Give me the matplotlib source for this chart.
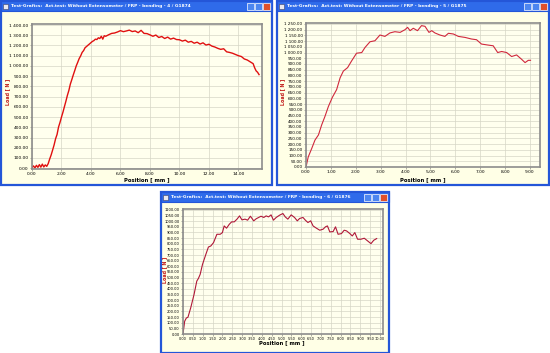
import numpy as np
import matplotlib
matplotlib.use("Agg")
from matplotlib import pyplot as plt
from matplotlib.patches import Rectangle
from matplotlib.ticker import FuncFormatter, MultipleLocator

title1 = "Test-Grafics:  Act.test: Without Extensometer / FRP - bending - 4 / G1874"
x1 = [0.0, 0.1, 0.2, 0.3, 0.4, 0.5, 0.6, 0.7, 0.8, 0.9, 1.0, 1.1, 1.2, 1.3, 1.4,
      1.5, 1.6, 1.7, 1.8, 1.9, 2.0, 2.1, 2.2, 2.3, 2.4, 2.5, 2.6, 2.7, 2.8, 2.9,
      3.0, 3.1, 3.2, 3.3, 3.4, 3.5, 3.6, 3.7, 3.8, 3.9, 4.0, 4.1, 4.2, 4.3, 4.4,
      4.5, 4.6, 4.7, 4.8, 4.9, 5.0, 5.2, 5.4, 5.6, 5.8, 6.0, 6.2, 6.4, 6.6, 6.8,
      7.0, 7.2, 7.4, 7.6, 7.8, 8.0, 8.2, 8.4, 8.6, 8.8, 9.0, 9.2, 9.4, 9.6, 9.8,
      10.0, 10.2, 10.4, 10.6, 10.8, 11.0, 11.2, 11.4, 11.6, 11.8, 12.0, 12.2,
      12.4, 12.6, 12.8, 13.0, 13.2, 13.4, 13.6, 13.8, 14.0, 14.2, 14.4, 14.6,
      14.8, 15.0, 15.1, 15.2, 15.3, 15.4]
y1 = [5, 22, 3, 28, 8, 35, 10, 40, 12, 32, 18, 45, 90, 130, 178,
      228, 288, 330, 402, 448, 500, 548, 602, 655, 712, 760, 822, 866, 912, 955,
      1000, 1035, 1072, 1098, 1132, 1150, 1178, 1190, 1203, 1215, 1228, 1240, 1248, 1262, 1258,
      1275, 1268, 1290, 1262, 1295, 1290, 1305, 1318, 1322, 1332, 1345, 1335, 1342, 1350, 1336,
      1342, 1325, 1348, 1318, 1316, 1304, 1290, 1302, 1278, 1288, 1268, 1282, 1262, 1272, 1258,
      1256, 1243, 1252, 1232, 1240, 1222, 1232, 1214, 1226, 1204, 1212, 1194,
      1185, 1172, 1162, 1168, 1138, 1132, 1124, 1112, 1100, 1092, 1068, 1058,
      1040, 1022, 982, 952, 938, 915]

title2 = "Test-Grafics:  Act.test: Without Extensometer / FRP - bending - 5 / G1875"
x2 = [0.0, 0.09, 0.23, 0.36, 0.5, 0.63, 0.76, 0.9, 1.06, 1.23, 1.37, 1.5, 1.67,
      1.83, 2.03, 2.24, 2.37, 2.57, 2.77, 2.97, 3.17, 3.37, 3.57, 3.78, 3.98,
      4.08, 4.18, 4.31, 4.48, 4.64, 4.78, 4.94, 5.05, 5.18, 5.38, 5.58, 5.72,
      5.92, 6.12, 6.39, 6.65, 6.85, 7.05, 7.32, 7.52, 7.7, 7.86, 8.06, 8.26,
      8.46, 8.66, 8.8, 8.93, 9.02]
y2 = [0, 88, 162, 235, 280, 368, 441, 529, 609, 676, 779, 838, 868,
      926, 994, 1000, 1044, 1094, 1103, 1153, 1141, 1171, 1182, 1176, 1200,
      1220, 1191, 1212, 1191, 1235, 1229, 1176, 1191, 1171, 1153, 1141, 1168,
      1162, 1141, 1132, 1118, 1112, 1074, 1065, 1059, 1000, 1009, 1000, 965,
      979, 941, 912, 932, 932]

title3 = "Test-Grafics:  Act.test: Without Extensometer / FRP - bending - 6 / G1876"
x3 = [0.0, 0.085, 0.17, 0.25, 0.39, 0.56, 0.7, 0.78, 0.87, 0.99, 1.16, 1.29, 1.41,
      1.55, 1.72, 1.89, 2.0, 2.09, 2.21, 2.35, 2.47, 2.6, 2.74, 2.87, 2.99,
      3.15, 3.28, 3.42, 3.59, 3.71, 3.84, 3.96, 4.1, 4.22, 4.34, 4.47, 4.59,
      4.73, 4.9, 5.07, 5.19, 5.32, 5.49, 5.66, 5.8, 5.92, 6.09, 6.21, 6.34,
      6.48, 6.6, 6.77, 6.94, 7.11, 7.23, 7.33, 7.45, 7.62, 7.74, 7.87, 8.04,
      8.18, 8.3, 8.47, 8.59, 8.72, 8.86, 9.03, 9.2, 9.37, 9.54, 9.68, 9.83]
y3 = [0, 113, 142, 148, 231, 350, 469, 492, 528, 617, 706, 771, 780,
      810, 884, 884, 899, 958, 938, 973, 994, 994, 1018, 1047, 1012,
      1018, 1009, 1044, 1003, 1021, 1033, 1044, 1033, 1047, 1038, 1056, 1009,
      1033, 1053, 1068, 1038, 1018, 1056, 1033, 1003, 1024, 1033, 1009, 988,
      1003, 958, 938, 920, 929, 950, 958, 905, 908, 950, 884, 890,
      920, 914, 890, 869, 899, 840, 840, 849, 825, 801, 831, 846]

W, H = 550, 353
fig = plt.figure(figsize=(W / 100, H / 100), dpi=100)
fig.patch.set_facecolor("white")

# overlay in pixel coords for the window frames
bg = fig.add_axes([0, 0, 1, 1])
bg.set_xlim(0, W)
bg.set_ylim(H, 0)
bg.axis("off")

blue = "#2456D8"
cream = "#FFFFE6"


def window(x0, y0, x1_, y1_, title):
    bg.add_patch(Rectangle((x0, y0), x1_ - x0, y1_ - y0, facecolor=cream,
                           edgecolor=blue, lw=1.6))
    bg.add_patch(Rectangle((x0, y0), x1_ - x0, 10, facecolor="#2F6BEA",
                           edgecolor=blue, lw=0.8))
    bg.add_patch(Rectangle((x0 + 2, y0 + 2.5), 5, 5, facecolor="#E8E8F0",
                           edgecolor="#404060", lw=0.4))
    bg.text(x0 + 10, y0 + 5.3, title, color="white", fontsize=3.2,
            fontweight="bold", va="center", ha="left")
    for i, c in enumerate(["#4D86F0", "#4D86F0", "#E0502A"]):
        bx = x1_ - 25 + i * 8
        bg.add_patch(Rectangle((bx, y0 + 1.5), 7, 7, facecolor=c,
                               edgecolor="white", lw=0.5))


window(0.8, 1, 272, 185, title1)
window(277, 1, 549, 185, title2)
window(161, 192, 389, 352.5, title3)


def fmt(v, pos):
    s = "{:,.2f}".format(v)
    return s.replace(",", " ")


def fmt_plain(v, pos):
    return "{:.2f}".format(v)


def panel(rect, x, y, color, xmax, xstep, ymax, ystep, lw, xs, ys, yfmt=fmt):
    l, r, t, b = rect
    ax = fig.add_axes([l / W, 1 - b / H, (r - l) / W, (b - t) / H])
    ax.set_facecolor("#FFFFEE")
    ax.plot(x, y, color=color, lw=lw)
    ax.set_xlim(0, xmax)
    ax.set_ylim(0, ymax)
    ax.xaxis.set_major_locator(MultipleLocator(xstep))
    ax.yaxis.set_major_locator(MultipleLocator(ystep))
    ax.xaxis.set_major_formatter(FuncFormatter(fmt))
    ax.yaxis.set_major_formatter(FuncFormatter(yfmt))
    ax.grid(True, color="#D6D6C6", lw=0.5)
    ax.set_axisbelow(True)
    ax.tick_params(length=1.5, width=0.4, pad=1.0, color="#707070")
    ax.tick_params(axis="x", labelsize=xs)
    ax.tick_params(axis="y", labelsize=ys)
    for sp in ax.spines.values():
        sp.set_color("#8C8C8C")
        sp.set_linewidth(1.2)
    return ax


a1 = panel((32, 262, 24, 169), x1, y1, "#E01010", 15.6, 2, 1410, 100, 1.0, 3.2, 3.2)
a2 = panel((306, 540, 23, 167), x2, y2, "#D0283C", 9.4, 1, 1258, 50, 0.8, 3.2, 3.0)
a3 = panel((183, 383, 209, 334), x3, y3, "#B01838", 10.15, 0.5, 1108, 50, 0.8, 2.5, 2.6,
           yfmt=fmt_plain)
a1.set_ylim(-8, 1410)

# axis titles
for (lx, ly), (px, py) in [((8, 92), (147, 180)), ((283, 92), (423, 180)),
                           ((164.5, 270), (282, 343))]:
    bg.text(lx, ly, "Load [ N ]", color="#C01818", fontsize=3.4, fontweight="bold",
            rotation=90, ha="center", va="center")
    bg.text(px, py, "Position [ mm ]", color="black", fontsize=3.8,
            fontweight="bold", ha="center", va="center")

plt.savefig("out.png", dpi=100)
